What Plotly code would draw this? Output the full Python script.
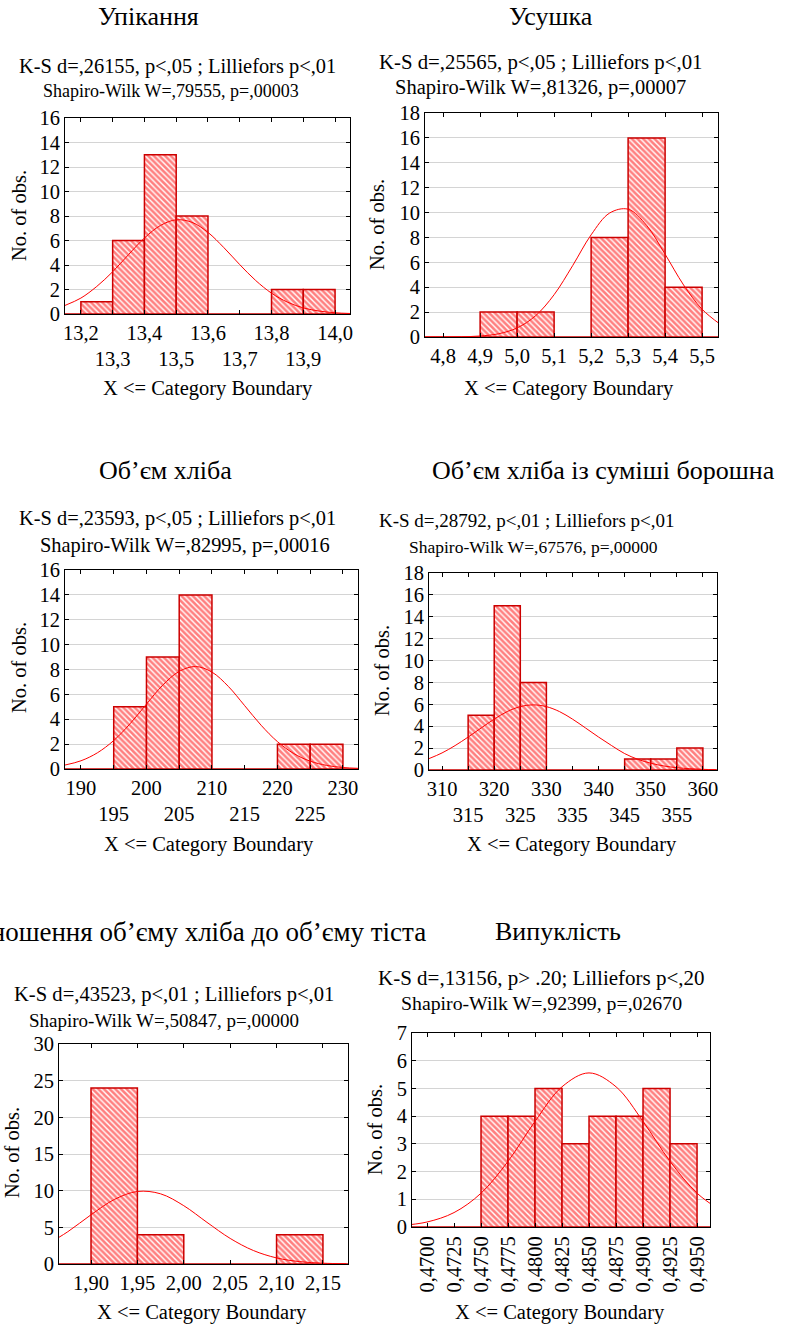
import plotly.graph_objects as go

W, H = 785, 1326
FONT = "Liberation Serif, Times New Roman, serif"

# ---------------- DATA ----------------
# Panel 1: Упікання
p1_title = "Упікання"
p1_stats = ["K-S d=,26155, p&lt;,05 ; Lilliefors p&lt;,01", "Shapiro-Wilk W=,79555, p=,00003"]
p1_bin_left = [13.1, 13.2, 13.3, 13.4, 13.5, 13.6, 13.7, 13.8, 13.9, 14.0]
p1_counts = [0, 1, 6, 13, 8, 0, 0, 2, 2, 0]
p1_bin_width = 0.1
p1_curve_x = [13.15, 13.2, 13.25, 13.3, 13.35, 13.4, 13.45, 13.5, 13.55, 13.6, 13.65, 13.7, 13.75, 13.8,
              13.85, 13.9, 13.95, 14.0, 14.05]
p1_curve_y = [0.7, 1.3, 2.25, 3.45, 4.85, 6.2, 7.22, 7.69, 7.48, 6.66, 5.42, 4.03, 2.74, 1.7, 0.97, 0.5,
              0.24, 0.1, 0.04]
p1_xticks = [13.2, 13.3, 13.4, 13.5, 13.6, 13.7, 13.8, 13.9, 14.0]
p1_xlabels = ["13,2", "13,3", "13,4", "13,5", "13,6", "13,7", "13,8", "13,9", "14,0"]
p1_yticks = [0, 2, 4, 6, 8, 10, 12, 14, 16]

# Panel 2: Усушка
p2_title = "Усушка"
p2_stats = ["K-S d=,25565, p&lt;,05 ; Lilliefors p&lt;,01", "Shapiro-Wilk W=,81326, p=,00007"]
p2_bin_left = [4.7, 4.8, 4.9, 5.0, 5.1, 5.2, 5.3, 5.4, 5.5]
p2_counts = [0, 0, 2, 2, 0, 8, 16, 4, 0]
p2_bin_width = 0.1
p2_curve_x = [4.75, 4.8, 4.85, 4.9, 4.95, 5.0, 5.05, 5.1, 5.15, 5.2, 5.25, 5.3, 5.35, 5.4, 5.45, 5.5, 5.55]
p2_curve_y = [0.0, 0.005, 0.02, 0.08, 0.26, 0.73, 1.71, 3.4, 5.73, 8.21, 9.96, 10.27, 8.97, 6.65, 4.18,
              2.23, 1.0]
p2_xticks = [4.8, 4.9, 5.0, 5.1, 5.2, 5.3, 5.4, 5.5]
p2_xlabels = ["4,8", "4,9", "5,0", "5,1", "5,2", "5,3", "5,4", "5,5"]
p2_yticks = [0, 2, 4, 6, 8, 10, 12, 14, 16, 18]

# Panel 3: Об’єм хліба
p3_title = "Об’єм хліба"
p3_stats = ["K-S d=,23593, p&lt;,05 ; Lilliefors p&lt;,01", "Shapiro-Wilk W=,82995, p=,00016"]
p3_bin_left = [185, 190, 195, 200, 205, 210, 215, 220, 225, 230]
p3_counts = [0, 0, 5, 9, 14, 0, 0, 2, 2, 0]
p3_bin_width = 5
p3_curve_x = [187.5, 190, 192.5, 195, 197.5, 200, 202.5, 205, 207.5, 210, 212.5, 215, 217.5, 220, 222.5,
              225, 227.5, 230, 232.5]
p3_curve_y = [0.31, 0.66, 1.3, 2.29, 3.64, 5.22, 6.75, 7.85, 8.24, 7.79, 6.64, 5.09, 3.52, 2.2, 1.24,
              0.63, 0.29, 0.12, 0.05]
p3_xticks = [190, 195, 200, 205, 210, 215, 220, 225, 230]
p3_xlabels = ["190", "195", "200", "205", "210", "215", "220", "225", "230"]
p3_yticks = [0, 2, 4, 6, 8, 10, 12, 14, 16]

# Panel 4: Об’єм хліба із суміші борошна
p4_title = "Об’єм хліба із суміші борошна"
p4_stats = ["K-S d=,28792, p&lt;,01 ; Lilliefors p&lt;,01", "Shapiro-Wilk W=,67576, p=,00000"]
p4_bin_left = [305, 310, 315, 320, 325, 330, 335, 340, 345, 350, 355, 360]
p4_counts = [0, 0, 5, 15, 8, 0, 0, 0, 1, 1, 2, 0]
p4_bin_width = 5
p4_curve_x = [307.5, 310, 312.5, 315, 317.5, 320, 322.5, 325, 327.5, 330, 332.5, 335, 337.5, 340, 342.5,
              345, 347.5, 350, 352.5, 355, 357.5, 360, 362.5]
p4_curve_y = [1.04, 1.56, 2.23, 3.01, 3.84, 4.65, 5.34, 5.79, 5.95, 5.79, 5.34, 4.65, 3.84, 3.01, 2.23,
              1.5, 0.98, 0.62, 0.37, 0.21, 0.12, 0.06, 0.03]
p4_xticks = [310, 315, 320, 325, 330, 335, 340, 345, 350, 355, 360]
p4_xlabels = ["310", "315", "320", "325", "330", "335", "340", "345", "350", "355", "360"]
p4_yticks = [0, 2, 4, 6, 8, 10, 12, 14, 16, 18]

# Panel 5: Співвідношення об’єму хліба до об’єму тіста
p5_title = "Співвідношення об’єму хліба до об’єму тіста"
p5_stats = ["K-S d=,43523, p&lt;,01 ; Lilliefors p&lt;,01", "Shapiro-Wilk W=,50847, p=,00000"]
p5_bin_left = [1.85, 1.90, 1.95, 2.00, 2.05, 2.10, 2.15]
p5_counts = [0, 24, 4, 0, 0, 4, 0]
p5_bin_width = 0.05
p5_curve_x = [1.85, 1.875, 1.9, 1.925, 1.95, 1.975, 2.0, 2.025, 2.05, 2.075, 2.1, 2.125, 2.15, 2.175]
p5_curve_y = [2.48, 4.4, 6.71, 8.79, 9.89, 9.57, 7.95, 5.68, 3.49, 1.84, 0.83, 0.32, 0.11, 0.03]
p5_xticks = [1.90, 1.95, 2.00, 2.05, 2.10, 2.15]
p5_xlabels = ["1,90", "1,95", "2,00", "2,05", "2,10", "2,15"]
p5_yticks = [0, 5, 10, 15, 20, 25, 30]

# Panel 6: Випуклість
p6_title = "Випуклість"
p6_stats = ["K-S d=,13156, p&gt; .20; Lilliefors p&lt;,20", "Shapiro-Wilk W=,92399, p=,02670"]
p6_bin_left = [0.4675, 0.47, 0.4725, 0.475, 0.4775, 0.48, 0.4825, 0.485, 0.4875, 0.49, 0.4925, 0.495]
p6_counts = [0, 0, 0, 4, 4, 5, 3, 4, 4, 5, 3, 0]
p6_bin_width = 0.0025
p6_curve_x = [0.4675, 0.47, 0.4725, 0.475, 0.4775, 0.48, 0.4825, 0.485, 0.4875, 0.49, 0.4925, 0.495, 0.4975]
p6_curve_y = [0.05, 0.18, 0.52, 1.22, 2.37, 3.81, 5.06, 5.56, 5.06, 3.81, 2.37, 1.22, 0.52]
p6_xticks = [0.47, 0.4725, 0.475, 0.4775, 0.48, 0.4825, 0.485, 0.4875, 0.49, 0.4925, 0.495]
p6_xlabels = ["0,4700", "0,4725", "0,4750", "0,4775", "0,4800", "0,4825", "0,4850", "0,4875", "0,4900",
              "0,4925", "0,4950"]
p6_yticks = [0, 1, 2, 3, 4, 5, 6, 7]

y_title = "No. of obs."
x_title = "X &lt;= Category Boundary"

# ---------------- LAYOUT CONFIG (pixel positions / sizes) ----------------
panels = [
    dict(title=p1_title, stats=p1_stats, left=p1_bin_left, counts=p1_counts, w=p1_bin_width,
         cx=p1_curve_x, cy=p1_curve_y, xt=p1_xticks, xl=p1_xlabels, yt=p1_yticks, two=True, angle=0,
         xr=[13.15, 14.047], yr=[0, 16], box=(65, 350, 118, 314), tsize=26,
         tpos=(148, 17, "center"), spos=[(177, 66, 20.4), (171, 91, 18)], ypos=(19, 216), xpos=(208, 388)),
    dict(title=p2_title, stats=p2_stats, left=p2_bin_left, counts=p2_counts, w=p2_bin_width,
         cx=p2_curve_x, cy=p2_curve_y, xt=p2_xticks, xl=p2_xlabels, yt=p2_yticks, two=False, angle=0,
         xr=[4.751, 5.543], yr=[0, 18], box=(425, 718, 113, 337), tsize=26,
         tpos=(551, 17, "center"), spos=[(540, 62, 20.8), (540, 88, 20.5)], ypos=(377, 225), xpos=(569, 388)),
    dict(title=p3_title, stats=p3_stats, left=p3_bin_left, counts=p3_counts, w=p3_bin_width,
         cx=p3_curve_x, cy=p3_curve_y, xt=p3_xticks, xl=p3_xlabels, yt=p3_yticks, two=True, angle=0,
         xr=[187.56, 232.3], yr=[0, 16], box=(65, 358, 570, 769), tsize=26,
         tpos=(165, 470, "center"), spos=[(177, 519, 20.4), (185, 545, 20.4)], ypos=(19, 668), xpos=(209, 845)),
    dict(title=p4_title, stats=p4_stats, left=p4_bin_left, counts=p4_counts, w=p4_bin_width,
         cx=p4_curve_x, cy=p4_curve_y, xt=p4_xticks, xl=p4_xlabels, yt=p4_yticks, two=True, angle=0,
         xr=[307.5, 362.7], yr=[0, 18], box=(429, 717, 573, 770), tsize=26,
         tpos=(603, 470, "center"), spos=[(527, 521, 19), (533, 547, 17.5)], ypos=(382, 671), xpos=(572, 845)),
    dict(title=p5_title, stats=p5_stats, left=p5_bin_left, counts=p5_counts, w=p5_bin_width,
         cx=p5_curve_x, cy=p5_curve_y, xt=p5_xticks, xl=p5_xlabels, yt=p5_yticks, two=False, angle=0,
         xr=[1.8655, 2.177], yr=[0, 30], box=(59, 348, 1044, 1264), tsize=27,
         tpos=(428, 932, "right"), spos=[(174, 994, 20.6), (164, 1020, 19)], ypos=(12, 1153), xpos=(202, 1312)),
    dict(title=p6_title, stats=p6_stats, left=p6_bin_left, counts=p6_counts, w=p6_bin_width,
         cx=p6_curve_x, cy=p6_curve_y, xt=p6_xticks, xl=p6_xlabels, yt=p6_yticks, two=False, angle=-90,
         xr=[0.46861, 0.4962], yr=[0, 7], box=(412, 710, 1033, 1227), tsize=26,
         tpos=(558, 932, "center"), spos=[(541, 978, 21), (541, 1003, 19.8)], ypos=(375, 1130), xpos=(560, 1312)),
]


def fx(px):
    return px / W


def fy(py):
    return 1 - py / H


RED = "#ff0000"
DARKRED = "#cc0000"

fig = go.Figure()
annotations = []
layout_axes = {}

for i, p in enumerate(panels, start=1):
    xa = "x" if i == 1 else f"x{i}"
    ya = "y" if i == 1 else f"y{i}"
    fig.add_trace(go.Bar(
        x=p["left"], y=p["counts"], width=p["w"], offset=0,
        xaxis=xa, yaxis=ya,
        marker=dict(color="white",
                    line=dict(color=DARKRED, width=1.5),
                    pattern=dict(shape="\\", fgcolor=RED, bgcolor="white", size=4, solidity=0.65)),
        showlegend=False, hoverinfo="skip",
    ))
    fig.add_trace(go.Scatter(
        x=p["cx"], y=p["cy"], mode="lines", xaxis=xa, yaxis=ya,
        line=dict(color=RED, width=1, shape="spline", smoothing=1.0),
        showlegend=False, hoverinfo="skip",
    ))
    x0, x1, y0, y1 = p["box"]
    if p["two"]:
        ticktext = [lab if k % 2 == 0 else "<br>" + lab for k, lab in enumerate(p["xl"])]
    else:
        ticktext = p["xl"]
    xkey = "xaxis" if i == 1 else f"xaxis{i}"
    ykey = "yaxis" if i == 1 else f"yaxis{i}"
    layout_axes[xkey] = dict(
        domain=[fx(x0), fx(x1)], anchor=ya, range=p["xr"],
        tickmode="array", tickvals=p["xt"], ticktext=ticktext, tickangle=p["angle"],
        showgrid=False, zeroline=False, showline=True, linecolor="black", linewidth=1,
        mirror="ticks", ticks="inside", ticklen=4, tickcolor="black",
        tickfont=dict(family=FONT, size=20.5, color="black"),
    )
    layout_axes[ykey] = dict(
        domain=[fy(y1), fy(y0)], anchor=xa, range=p["yr"],
        tickmode="array", tickvals=p["yt"], ticktext=[str(v) for v in p["yt"]],
        showgrid=True, gridcolor="#d4d4d4", gridwidth=1,
        zeroline=False, showline=True, linecolor="black", linewidth=1,
        mirror="ticks", ticks="inside", ticklen=4, tickcolor="black",
        tickfont=dict(family=FONT, size=20.5, color="black"),
    )
    tx, ty, tanchor = p["tpos"]
    annotations.append(dict(text=p["title"], x=fx(tx), y=fy(ty), xref="paper", yref="paper",
                            xanchor=tanchor, yanchor="middle", showarrow=False,
                            font=dict(family=FONT, size=p["tsize"], color="black")))
    for line, (sx, sy, fsz) in zip(p["stats"], p["spos"]):
        annotations.append(dict(text=line, x=fx(sx), y=fy(sy), xref="paper", yref="paper",
                                xanchor="center", yanchor="middle", showarrow=False,
                                font=dict(family=FONT, size=fsz, color="black")))
    annotations.append(dict(text=y_title, x=fx(p["ypos"][0]), y=fy(p["ypos"][1]), xref="paper",
                            yref="paper", xanchor="center", yanchor="middle", textangle=-90,
                            showarrow=False, font=dict(family=FONT, size=20.5, color="black")))
    annotations.append(dict(text=x_title, x=fx(p["xpos"][0]), y=fy(p["xpos"][1]), xref="paper",
                            yref="paper", xanchor="center", yanchor="middle", showarrow=False,
                            font=dict(family=FONT, size=20.5, color="black")))

fig.update_layout(
    width=W, height=H, margin=dict(l=0, r=0, t=0, b=0, autoexpand=False),
    paper_bgcolor="white", plot_bgcolor="white",
    barmode="overlay", annotations=annotations, showlegend=False,
    font=dict(family=FONT, color="black"),
    **layout_axes,
)

fig.write_html("out.html", config={"displayModeBar": False, "responsive": False},
               post_script="document.body.style.margin='0px';")
